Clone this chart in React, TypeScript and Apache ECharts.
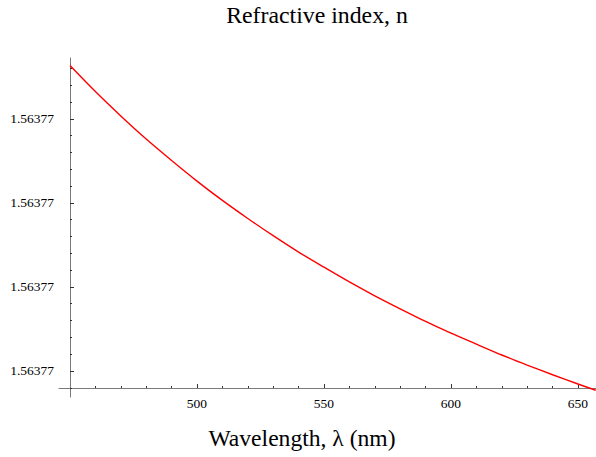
import React, { useEffect, useRef } from "react";
import * as echarts from "echarts";

// Wavelength (nm) and refractive index
const wavelengths = [450, 460, 470, 480, 490, 500, 510, 520, 530, 540, 550, 560, 570, 580, 590, 600, 610, 620, 630, 640, 650, 657];
const indexValues = [
  1.56377327, 1.56377265, 1.56377207, 1.56377152, 1.56377101, 1.56377052, 1.56377006, 1.56376963,
  1.56376922, 1.56376883, 1.56376847, 1.56376812, 1.56376779, 1.56376748, 1.56376718, 1.5637669,
  1.56376664, 1.56376638, 1.56376614, 1.56376591, 1.56376569, 1.56376554,
];

const xMajorTicks = [500, 550, 600, 650];
const xMinorTicks = [460, 470, 480, 490, 510, 520, 530, 540, 560, 570, 580, 590, 610, 620, 630, 640];
const yMajorTicks = [1.563766, 1.563768, 1.56377, 1.563772];
const yMinorTicks = [
  1.5637656, 1.5637664, 1.5637668, 1.5637672, 1.5637676, 1.5637684, 1.5637688, 1.5637692,
  1.5637696, 1.5637704, 1.5637708, 1.5637712, 1.5637716, 1.5637724, 1.5637728, 1.5637732,
];

const xRange = [445.67, 657.1];
const yRange = [1.56376538, 1.56377345];

const titleText = "Refractive index, n";
const xName = "Wavelength, λ (nm)";

const FONT = "Liberation Serif";

export default function App() {
  const ref = useRef<HTMLDivElement>(null);
  useEffect(() => {
    if (!ref.current) return;
    const chart = echarts.init(ref.current, null, { renderer: "svg" });
    const axisLineStyle = { color: "#7a7a7a", width: 1 };
    const tickStyle = { color: "#333", width: 1 };
    const labelStyle = { color: "#000", fontFamily: FONT, fontSize: 13.5 };
    chart.setOption({
      animation: false,
      backgroundColor: "#fff",
      textStyle: { fontFamily: FONT },
      grid: { left: 59, right: 0, top: 58, bottom: 60, containLabel: false },
      xAxis: [
        {
          type: "value",
          min: xRange[0],
          max: xRange[1],
          position: "bottom",
          offset: -9,
          axisLine: { show: true, lineStyle: axisLineStyle },
          axisTick: { show: true, inside: true, length: 4, lineStyle: tickStyle, customValues: xMajorTicks },
          axisLabel: { ...labelStyle, margin: 8, customValues: xMajorTicks, formatter: (v: number) => String(v) },
          splitLine: { show: false },
        },
        {
          type: "value",
          min: xRange[0],
          max: xRange[1],
          position: "bottom",
          offset: -9,
          axisLine: { show: false },
          axisTick: { show: true, inside: true, length: 2, lineStyle: tickStyle, customValues: xMinorTicks },
          axisLabel: { show: false },
          splitLine: { show: false },
        },
      ],
      yAxis: [
        {
          type: "value",
          min: yRange[0],
          max: yRange[1],
          position: "left",
          offset: -11,
          axisLine: { show: true, lineStyle: axisLineStyle },
          axisTick: { show: true, inside: true, length: 4, lineStyle: tickStyle, customValues: yMajorTicks },
          axisLabel: { ...labelStyle, margin: 16, customValues: yMajorTicks, formatter: (v: number) => v.toFixed(5) },
          splitLine: { show: false },
        },
        {
          type: "value",
          min: yRange[0],
          max: yRange[1],
          position: "left",
          offset: -11,
          axisLine: { show: false },
          axisTick: { show: true, inside: true, length: 2, lineStyle: tickStyle, customValues: yMinorTicks },
          axisLabel: { show: false },
          splitLine: { show: false },
        },
      ],
      series: [
        {
          type: "line",
          xAxisIndex: 0,
          yAxisIndex: 0,
          data: wavelengths.map((w, i) => [w, indexValues[i]]),
          showSymbol: false,
          smooth: 0.3,
          lineStyle: { color: "#ff0000", width: 1.4 },
          clip: true,
        },
      ],
      graphic: [
        {
          type: "text",
          x: 317,
          y: 15,
          style: { text: titleText, fontFamily: FONT, fontSize: 23.8, fill: "#000", align: "center", verticalAlign: "middle" },
        },
        {
          type: "text",
          x: 302,
          y: 437.5,
          style: { text: xName, fontFamily: FONT, fontSize: 23.6, fill: "#000", align: "center", verticalAlign: "middle" },
        },
      ],
    });
    return () => chart.dispose();
  }, []);
  return (
    <div
      ref={ref}
      style={{ position: "absolute", left: 0, top: 0, width: 596, height: 457, background: "#fff" }}
    />
  );
}
